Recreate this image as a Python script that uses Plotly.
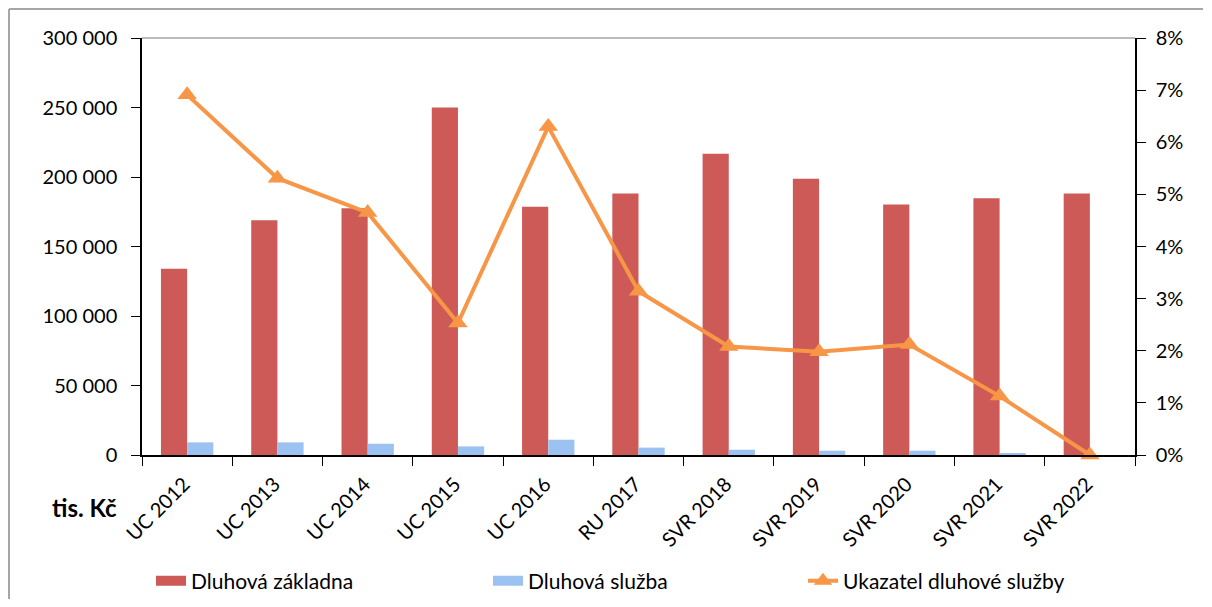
import plotly.graph_objects as go

categories = ["UC 2012", "UC 2013", "UC 2014", "UC 2015", "UC 2016", "RU 2017",
              "SVR 2018", "SVR 2019", "SVR 2020", "SVR 2021", "SVR 2022"]
dluhova_zakladna = [134000, 168800, 177600, 250000, 178600, 188200,
                    216800, 198800, 180300, 184700, 188200]
dluhova_sluzba = [9100, 9100, 8100, 6200, 11000, 5300, 3800, 3100, 3100, 1200, 0]
ukazatel = [0.0691, 0.0531, 0.0465, 0.0253, 0.0630, 0.0314,
            0.0208, 0.0198, 0.0212, 0.0113, 0.0]
left_ticks = [0, 50000, 100000, 150000, 200000, 250000, 300000]

RED = "#CD5A57"
BLUE = "#9CC2F1"
ORANGE = "#F79646"
FONT = "Lato"

fig = go.Figure()
fig.add_trace(go.Bar(x=categories, y=dluhova_zakladna, name="Dluhová základna",
                     marker=dict(color=RED, line=dict(width=0)), showlegend=False))
fig.add_trace(go.Bar(x=categories, y=dluhova_sluzba, name="Dluhová služba",
                     marker=dict(color=BLUE, line=dict(width=0)), showlegend=False))
fig.add_trace(go.Scatter(x=categories, y=ukazatel, name="Ukazatel dluhové služby",
                         yaxis="y2", mode="lines+markers", cliponaxis=False,
                         line=dict(color=ORANGE, width=4),
                         marker=dict(symbol="triangle-up", size=17, color=ORANGE),
                         legend="legend3"))
# legend-only entries with wide rectangular swatches for the bar series
fig.add_trace(go.Scatter(x=[None], y=[None], mode="lines", name="Dluhová základna",
                         line=dict(color=RED, width=12), legend="legend"))
fig.add_trace(go.Scatter(x=[None], y=[None], mode="lines", name="Dluhová služba",
                         line=dict(color=BLUE, width=12), legend="legend2"))

# page body has an 8px margin; the figure is sized to fit inside the window
OFF = 8
W, H = 1212 - 2 * OFF, 607 - 2 * OFF
L, R, T, B = 142, 1135, 38, 455   # plot area in window pixels

def px_x(p):
    return (p - L) / (R - L)

def px_y(p):
    return (B - p) / (B - T)

def cx(p):
    return (p - OFF) / W

def cy(p):
    return 1 - (p - OFF) / H

legend_common = dict(orientation="h", yanchor="middle", xanchor="left",
                     xref="container", yref="container",
                     font=dict(family=FONT, size=21, color="#000"),
                     bgcolor="rgba(0,0,0,0)", itemwidth=30)

fig.update_layout(
    width=W, height=H,
    margin=dict(l=L - OFF, r=(W + OFF) - R, t=T - OFF, b=(H + OFF) - B, autoexpand=False),
    paper_bgcolor="white", plot_bgcolor="white",
    separators=", ",
    barmode="group", bargap=0.42, bargroupgap=0,
    font=dict(family=FONT, size=20, color="#000"),
    xaxis=dict(type="category", range=[-0.5, len(categories) - 0.5],
               showline=True, linecolor="#000", linewidth=1.5,
               ticks="outside", ticklen=9, tickcolor="#000", tickson="boundaries",
               tickangle=-45, tickfont=dict(size=20), showgrid=False, automargin=False,
               ticklabelshift=-3, ticklabelstandoff=8),
    yaxis=dict(range=[0, 300000], tickvals=left_ticks, tickformat=",d",
               showline=True, linecolor="#000", linewidth=1.5, automargin=False,
               ticks="outside", ticklen=9, tickcolor="#000", showgrid=False,
               zeroline=False, ticklabelstandoff=10),
    yaxis2=dict(range=[0, 0.08], dtick=0.01, tickformat=".0%", overlaying="y",
                side="right", showline=True, linecolor="#000", linewidth=1.5,
                ticks="outside", ticklen=9, tickcolor="#000", showgrid=False,
                zeroline=False, automargin=False, ticklabelstandoff=6),
    legend=dict(x=cx(151), y=cy(581), **legend_common),
    legend2=dict(x=cx(488), y=cy(581), **legend_common),
    legend3=dict(x=cx(803), y=cy(581), **legend_common),
    showlegend=True,
    annotations=[dict(text="<b>tis. Kč</b>", xref="paper", yref="paper",
                      x=px_x(119), y=px_y(507), xanchor="right", yanchor="middle",
                      showarrow=False, font=dict(family=FONT, size=24, color="#000"))],
    shapes=[
        dict(type="line", xref="paper", yref="paper", x0=0, x1=1, y0=1, y1=1,
             line=dict(color="#A6A6A6", width=1.5)),
        dict(type="line", xref="paper", yref="paper", x0=px_x(OFF + 1), x1=px_x(1203),
             y0=px_y(OFF + 1), y1=px_y(OFF + 1), line=dict(color="#A6A6A6", width=2)),
        dict(type="line", xref="paper", yref="paper", x0=px_x(OFF + 1), x1=px_x(OFF + 1),
             y0=px_y(OFF + 1), y1=px_y(607), line=dict(color="#A6A6A6", width=2)),
    ],
)

fig.write_html("out.html")
